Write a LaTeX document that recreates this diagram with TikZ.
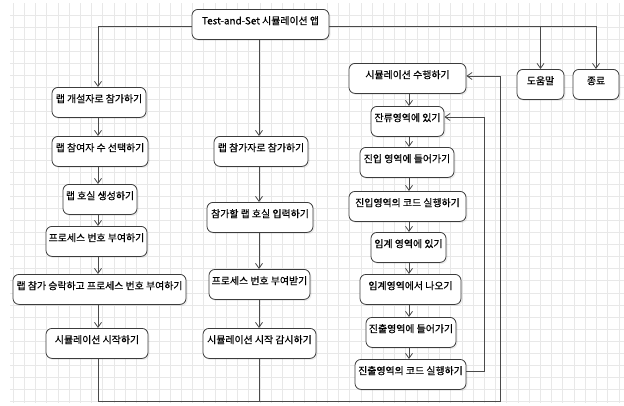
\documentclass[tikz,border=0pt]{standalone}
\usepackage{fontspec}
\setmainfont{Noto Sans CJK KR}[FakeBold=0.5]
\usetikzlibrary{arrows.meta,shadows,calc}
\definecolor{boxc}{HTML}{3C3C3C}
\definecolor{linec}{HTML}{4A4A4A}
\definecolor{gridc}{HTML}{E8E8E8}
\begin{document}
\begin{tikzpicture}[x=1pt,y=-1pt,
  box/.style={draw=boxc, line width=0.8pt, fill=white, rounded corners=6pt, anchor=north,
    minimum height=30pt, inner xsep=0.5pt, inner ysep=0pt, text height=15pt, text depth=15pt,
    font=\fontsize{9.9}{11}\selectfont,
    drop shadow={shadow xshift=1.5pt, shadow yshift=-1.5pt, opacity=0.15}},
  conn/.style={draw=linec, line width=0.8pt},
  arr/.style={conn, -{Straight Barb[length=5pt,width=7pt]}},
  gridline/.style={draw=gridc, line width=0.6pt}]
\useasboundingbox (0,0) rectangle (624,405);
% grid
\foreach \i in {0,...,54} \draw[gridline] ({13+11.22*\i},3) -- ({13+11.22*\i},403);
\foreach \j in {0,...,32} \draw[gridline] (10,{15+12.08*\j}) -- (624,{15+12.08*\j});
% column guides
\coordinate (cA) at (98,0);
\coordinate (cB) at (259,0);
\coordinate (cC) at (409,0);
\coordinate (bot) at (0,401);
\coordinate (rx) at (500,0);
\coordinate (k1) at (484,0);
% nodes
\node[box, minimum width=137pt] (top) at (260.5,9) {Test-and-Set 시뮬레이션 앱};
\node[box, minimum width=94pt]  (L1) at (99,87)   {랩 개설자로 참가하기};
\node[box, minimum width=96pt]  (L2) at (100,136) {랩 참여자 수 선택하기};
\node[box, minimum width=74pt]  (L3) at (100,184) {랩 호실 생성하기};
\node[box, minimum width=101pt] (L4) at (96.5,226) {프로세스 번호 부여하기};
\node[box, minimum width=173pt] (L5) at (99.5,274) {랩 참가 승락하고 프로세스 번호 부여하기};
\node[box, minimum width=102pt] (L6) at (97,328)  {시뮬레이션 시작하기};
\node[box, minimum width=94pt]  (M1) at (261,136) {랩 참가자로 참가하기};
\node[box, minimum width=106pt] (M2) at (260,202) {참가할 랩 호실 입력하기};
\node[box, minimum width=101pt] (M3) at (259.5,269) {프로세스 번호 부여받기};
\node[box, minimum width=113pt] (M4) at (259.5,328) {시뮬레이션 시작 감시하기};
\node[box, minimum width=117pt] (R1) at (407.5,63) {시뮬레이션 수행하기};
\node[box, minimum width=73pt]  (R2) at (407.5,106) {잔류영역에 있기};
\node[box, minimum width=94pt]  (R3) at (407,147) {진입 영역에 들어가기};
\node[box, minimum width=117pt] (R4) at (407.5,191) {진입영역의 코드 실행하기};
\node[box, minimum width=75pt]  (R5) at (408.5,232) {임계 영역에 있기};
\node[box, minimum width=101pt] (R6) at (410.5,274) {임계영역에서 나오기};
\node[box, minimum width=90pt]  (R7) at (411,317) {진출영역에 들어가기};
\node[box, minimum width=111pt] (R8) at (410.5,359) {진출영역의 코드 실행하기};
\node[box, minimum width=47pt]  (help) at (540.5,69) {도움말};
\node[box, minimum width=46pt]  (end) at (596,69) {종료};
% connectors from top
\draw[arr] ($(top.north west)+(0,17)$) -| (L1.north -| cA);
\draw[arr] (top.south -| cB) -- (M1.north -| cB);
\draw[arr] ($(top.north east)+(0,17)$) -| (help.north);
\draw[arr] ($(top.north east)+(0,17)$) -| (end.north);
% left column
\draw[arr] (L1.south -| cA) -- (L2.north -| cA);
\draw[arr] (L2.south -| cA) -- (L3.north -| cA);
\draw[arr] (L3.south -| cA) -- (L4.north -| cA);
\draw[arr] (L4.south -| cA) -- (L5.north -| cA);
\draw[arr] (L5.south -| cA) -- (L6.north -| cA);
% middle column
\draw[arr] (M1.south -| cB) -- (M2.north -| cB);
\draw[arr] (M2.south -| cB) -- (M3.north -| cB);
\draw[arr] (M3.south -| cB) -- (M4.north -| cB);
% right column
\draw[arr] (R1.south -| cC) -- (R2.north -| cC);
\draw[arr] (R2.south -| cC) -- (R3.north -| cC);
\draw[arr] (R3.south -| cC) -- (R4.north -| cC);
\draw[arr] (R4.south -| cC) -- (R5.north -| cC);
\draw[arr] (R5.south -| cC) -- (R6.north -| cC);
\draw[arr] (R6.south -| cC) -- (R7.north -| cC);
\draw[arr] (R7.south -| cC) -- (R8.north -| cC);
% big loop to simulation
\draw[arr] (L6.south -| cA) |- (rx |- bot) |- ($(R1.north east)+(0,13)$);
\draw[conn] (M4.south -| cB) -- (cB |- bot);
% inner loop
\coordinate (R2a) at ($(R2.north east)+(0,11)$);
\draw[arr] ($(R8.north east)+(0,12)$) -| (k1 |- R2a) -- (R2a);
\end{tikzpicture}
\end{document}
